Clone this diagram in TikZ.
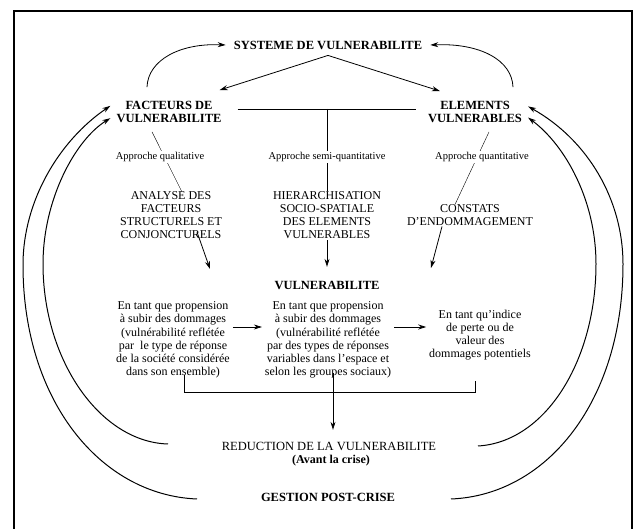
\documentclass[tikz,border=0pt]{standalone}
\usepackage{fontspec}
\setmainfont{Liberation Serif}
\usetikzlibrary{arrows.meta,calc}

\tikzset{
  ttl/.style={font=\bfseries\fontsize{12.5}{13}\selectfont, align=center, inner sep=0.75pt},
  hdr/.style={font=\fontsize{12}{13}\selectfont, align=center, inner sep=0.75pt},
  txt/.style={font=\fontsize{12}{13.2}\selectfont, align=center, inner sep=0.75pt},
  appr/.style={font=\fontsize{10.5}{12}\selectfont, fill=white, inner sep=1.5pt},
  arr/.style={-{Stealth[length=8pt,width=5pt]}, line width=0.8pt},
  crv/.style={arr, line width=1pt},
}

\begin{document}
\begin{tikzpicture}[x=1pt,y=1pt,yscale=-1,xscale=1]
\useasboundingbox (0,0) rectangle (638,529);
%Frame
\draw [line width=1.5pt] (14,529) -- (14,11) -- (632,11) -- (632,529);

% Text Node
\draw (328,45) node (sys) [ttl, inner xsep=8pt, inner ysep=6pt] {SYSTEME DE VULNERABILITE};
% Text Node
\draw (169,112) node (fac) [ttl, inner sep=6pt] {FACTEURS DE\\VULNERABILITE};
% Text Node
\draw (475,112) node (ele) [ttl, inner sep=6pt] {ELEMENTS\\VULNERABLES};
% Text Node
\draw (171,215.5) node (ana) [hdr] {ANALYSE DES\\FACTEURS\\STRUCTURELS ET\\CONJONCTURELS};
% Text Node
\draw (327,215.5) node (hie) [hdr] {HIERARCHISATION\\SOCIO-SPATIALE\\DES ELEMENTS\\VULNERABLES};
% Text Node
\draw (470,215) node (cst) [hdr] {CONSTATS\\D'ENDOMMAGEMENT};
% Text Node
\draw (327,285) node (vul) [ttl] {VULNERABILITE};
% Text Node
\draw (173,340) node (pl) [txt] {En tant que propension\\à subir des dommages\\(vulnérabilité reflétée\\par\ \ le type de réponse\\de la société considérée\\dans son ensemble)};
% Text Node
\draw (328,340) node (pm) [txt] {En tant que propension\\à subir des dommages\\(vulnérabilité reflétée\\par des types de réponses\\variables dans l'espace et\\selon les groupes sociaux)};
% Text Node
\draw (480,335) node (pr) [txt] {En tant qu'indice\\de perte ou de\\valeur des\\dommages potentiels};
% Text Node
\draw (329,446) node (red) [hdr, font=\fontsize{12.5}{13}\selectfont] {REDUCTION DE LA VULNERABILITE};
% Text Node
\draw (331,461) node (avc) [ttl, font=\bfseries\fontsize{12}{13}\selectfont] {(Avant la crise)};
% Text Node
\draw (328,497) node (gpc) [ttl] {GESTION POST-CRISE};

%Free ends
\coordinate (vl) at (210,269);
\coordinate (vr) at (431,268);
\coordinate (rl) at (168,444);
\coordinate (rr) at (478,446);
\coordinate (gl) at (197,499);
\coordinate (gr) at (451,499);
\coordinate (tj) at ($(hie.north |- fac.east)+(0,-3)$);

%Curve Lines
\draw [arr] ($(fac.north)+(-22,-8)$) .. controls (148,60) and (180,43) .. (sys.west);
\draw [arr] ($(ele.north)+(38,-8)$) .. controls (512,60) and (480,43) .. (sys.east);
%Straight Lines
\draw [arr] (sys.south) -- ($(fac.north east)+(-8,-5)$);
\draw [arr] (sys.south) -- ($(ele.north west)+(18,-4)$);
\draw ($(fac.east)+(10,-3)$) -- ($(ele.west)+(-6,-3)$);
\draw (tj) -- (hie.north);
\draw ($(fac.south)+(-17,3)$) -- ($(ana.north)+(11,1)$);
\draw ($(ele.south)+(14,3)$) -- ($(cst.north)+(-15,1)$);

% Text Node
\draw (160,157) node (aql) [appr] {Approche qualitative};
% Text Node
\draw (327,157) node (asq) [appr] {Approche semi-quantitative};
% Text Node
\draw (482,157) node (aqt) [appr] {Approche quantitative};

%Straight Lines
\draw [arr] ($(ana.south)+(26,-8)$) -- (vl);
\draw [arr] (hie.south) -- ($(vul.north)+(0,-13)$);
\draw [arr] ($(cst.south)+(-28,0)$) -- (vr);
\draw [arr] ($(pl.east)+(2,-13)$) -- ($(pm.west)+(-2,-13)$);
\draw [arr] ($(pm.east)+(2,-13)$) -- ($(pr.west)+(-2,-8)$);
\draw ($(pl.south)+(11,-4)$) -- ++(0,17) -| ($(pr.south)+(-5,20)$);
\draw [arr] ($(pm.south)+(5,-6)$) -- ($(red.north)+(4,-11)$);

%Curve Lines
\draw [crv] (gl) .. controls (100,495) and (23,400) .. (23,265) .. controls (23,200) and (60,140) .. (fac.174);
\draw [crv] (rl) .. controls (100,442) and (43,360) .. (43,264) .. controls (43,200) and (75,140) .. (fac.186);
\draw [crv] (gr) .. controls (548,495) and (623,400) .. (623,264) .. controls (623,200) and (588,140) .. (ele.6);
\draw [crv] (rr) .. controls (546,442) and (596,360) .. (596,264) .. controls (596,200) and (565,145) .. (ele.-6);
\end{tikzpicture}
\end{document}
